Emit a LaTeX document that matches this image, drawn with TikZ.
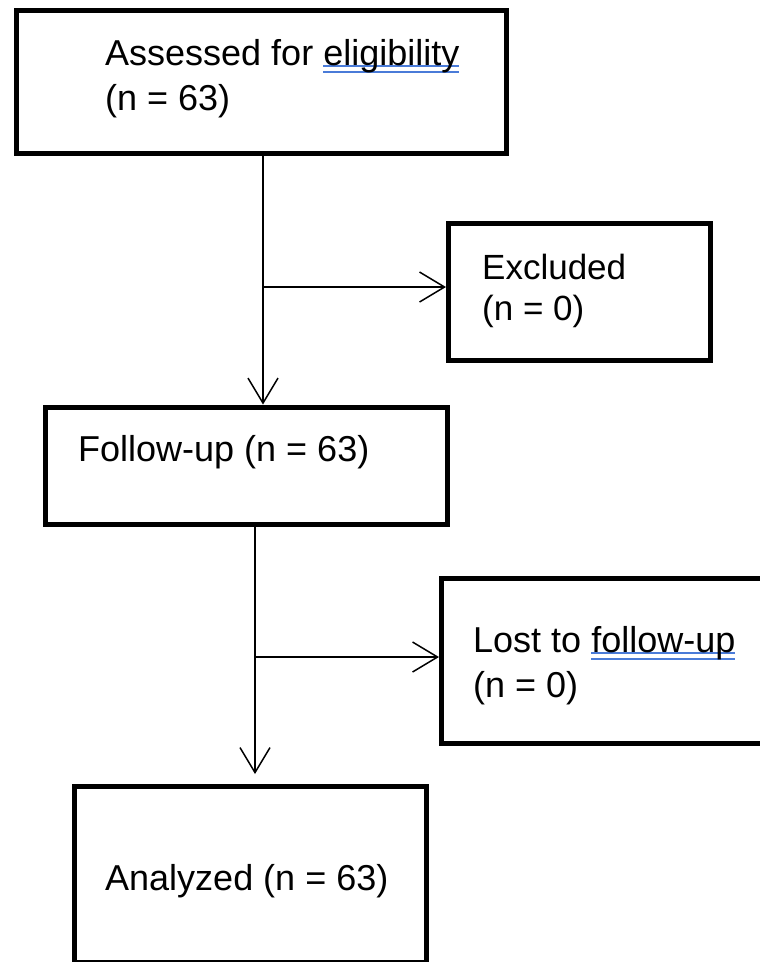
\documentclass[tikz,border=0pt]{standalone}
\usepackage{fontspec}
\setmainfont{Liberation Sans}
\usetikzlibrary{arrows.meta}
\definecolor{ulblue}{HTML}{4A7BD8}
\newcommand\spellul[1]{\setbox0\hbox{#1}\rlap{\textcolor{ulblue}{\rule[-1.75pt]{\wd0}{1.5pt}}}\rlap{\textcolor{ulblue}{\rule[-7.75pt]{\wd0}{1.5pt}}}\box0}
\begin{document}
\begin{tikzpicture}[x=1pt,y=-1pt,
  box/.style={draw, line width=5pt, rectangle, inner sep=0pt},
  lbl/.style={anchor=base west, inner sep=0pt, font=\fontsize{36}{43}\selectfont},
  lbls/.style={anchor=base west, inner sep=0pt, font=\fontsize{35}{42}\selectfont},
  conn/.style={line width=1.5pt, -{Straight Barb[length=25pt,width=30pt,line width=1.5pt]}}]
\useasboundingbox (0,0) rectangle (760,962);
\clip (0,0) rectangle (760,962);
\fill[white] (0,0) rectangle (760,962);

% boxes
\node[box, minimum width=490pt, minimum height=143pt] (box1) at (261.5,82) {};
\node[box, minimum width=262pt, minimum height=137pt] (box2) at (579.5,291.5) {};
\node[box, minimum width=402pt, minimum height=117.5pt] (box3) at (246.5,465.75) {};
\node[box, minimum width=358.5pt, minimum height=165pt] (box4) at (620.75,661) {};
\node[box, minimum width=352.5pt, minimum height=176pt] (box5) at (250.25,874) {};

% texts
\node[lbl] (t1a) at (105,65) {Assessed for \spellul{eligibility}};
\node[lbl] (t1b) at (105,110) {(n = 63)};
\node[lbls] (t2a) at (482,279) {Excluded};
\node[lbls] (t2b) at (482,320) {(n = 0)};
\node[lbl] (t3) at (78,461) {Follow-up (n = 63)};
\node[lbl] (t4a) at (473,652) {Lost to \spellul{follow-up}};
\node[lbl] (t4b) at (473,697) {(n = 0)};
\node[lbl] (t5) at (105,890) {Analyzed (n = 63)};

% connectors
\coordinate (j1) at (263,287);
\coordinate (j2) at (255,657);
\coordinate (a5) at (255,774);
\draw[conn] (box1.south -| j1) -- (j1 |- box3.north);
\draw[conn] (j1) -- (j1 -| box2.west);
\draw[conn] (box3.south -| j2) -- (a5);
\draw[conn] (j2) -- (j2 -| box4.west);
\end{tikzpicture}
\end{document}
